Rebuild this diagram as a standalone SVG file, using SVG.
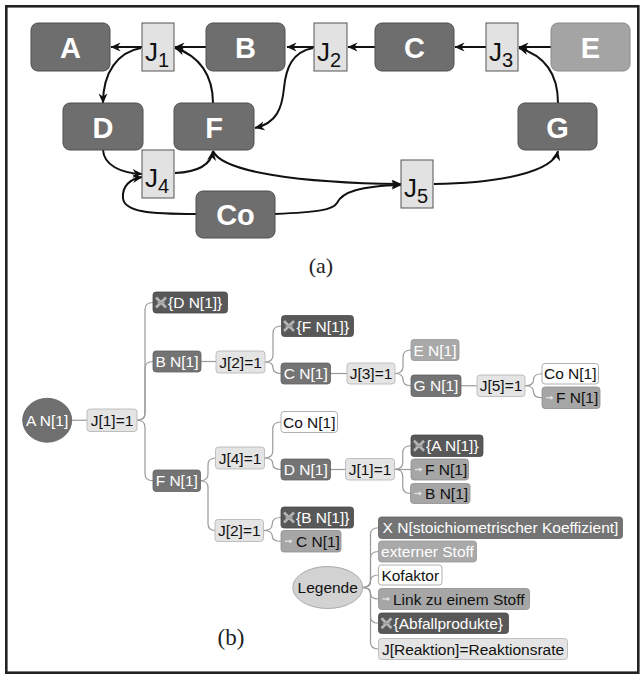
<svg xmlns="http://www.w3.org/2000/svg" width="642" height="675" viewBox="0 0 642 675">
  <style>
    .frame { fill: #ffffff; stroke: #222222; stroke-width: 2.6; }
    .sp { fill: #6e6e6e; stroke: #4f4f4f; stroke-width: 1; }
    .sp-ext { fill: #a4a4a4; stroke: #8a8a8a; stroke-width: 1; }
    .jr { fill: #e2e2e2; stroke: #555555; stroke-width: 1; }
    .big { font-family: "Liberation Sans", Arial, sans-serif; font-weight: bold; font-size: 29px; fill: #ffffff; text-anchor: middle; }
    .jt { font-family: "Liberation Sans", Arial, sans-serif; font-size: 26px; fill: #111111; }
    .jt tspan { font-size: 20px; }
    .arr { fill: none; stroke: #111111; stroke-width: 2; marker-end: url(#ah); }
    .cap { font-family: "Liberation Serif", "DejaVu Serif", serif; font-size: 22px; fill: #222222; text-anchor: middle; }
    .br { fill: none; stroke: #9a9a9a; stroke-width: 1.2; }
    .b-dark { fill: #585858; stroke: #4a4a4a; stroke-width: 0.8; }
    .b-med { fill: #747474; stroke: #626262; stroke-width: 0.8; }
    .b-ext { fill: #a9a9a9; stroke: #979797; stroke-width: 0.8; }
    .b-link { fill: #a6a6a6; stroke: #8e8e8e; stroke-width: 0.8; }
    .b-j { fill: #e4e4e4; stroke: #b2b2b2; stroke-width: 0.8; }
    .b-white { fill: #ffffff; stroke: #9c9c9c; stroke-width: 0.8; }
    .el-dark { fill: #6f6f6f; stroke: #5f5f5f; stroke-width: 0.8; }
    .el-leg { fill: #d2d2d2; stroke: #9a9a9a; stroke-width: 0.8; }
    .t { font-family: "Liberation Sans", Arial, sans-serif; font-size: 15.5px; }
    .tw { fill: #ffffff; }
    .tb { fill: #111111; }
    .mid { text-anchor: middle; }
  </style>
  <defs>
    <marker id="ah" markerWidth="11" markerHeight="10" refX="9.5" refY="5" orient="auto" markerUnits="userSpaceOnUse">
      <path d="M0,0.5 L10,5 L0,9.5 L3,5 Z" fill="#111111"/>
    </marker>
    <g id="waste">
      <path d="M0,0 L10,10 M10,0 L0,10" stroke="#b4b4b4" stroke-width="2.6" fill="none"/>
      <path d="M1,5 H9" stroke="#9a9a9a" stroke-width="1.2"/>
    </g>
    <g id="lnk">
      <path d="M0,0 H5" stroke="#e4e4e4" stroke-width="1.3"/>
      <path d="M4.5,-2.2 L7.5,0 L4.5,2.2 Z" fill="#e4e4e4"/>
    </g>
  </defs>

  <!-- outer frame -->
  <rect class="frame" x="6.3" y="6.3" width="632" height="666.4"/>

  <!-- ===== (a) reaction network ===== -->
  <g id="net-connectors">
    <path class="arr" d="M142,47 L111,47"/>
    <path class="arr" d="M206,47 L175,47"/>
    <path class="arr" d="M314,47 L287,47"/>
    <path class="arr" d="M375,47 L348,47"/>
    <path class="arr" d="M486,47 L455,47"/>
    <path class="arr" d="M551,47 L519,47"/>
    <path class="arr" d="M141,48 C118,52 103,72 103,103"/>
    <path class="arr" d="M213,103 C213,76 200,56 175,48"/>
    <path class="arr" d="M313,48 C292,52 286,68 284,88 C282,108 277,123 255,128"/>
    <path class="arr" d="M558,103 C558,76 546,56 519,48"/>
    <path class="arr" d="M103,150 C104,165 120,173 142,174"/>
    <path class="arr" d="M175,173 C197,172 211,165 213,151"/>
    <path class="arr" d="M196,214 C150,214 124,212 123,198 C122,186 130,179 142,177"/>
    <path class="arr" d="M213,151 C222,172 300,183 401,184"/>
    <path class="arr" d="M275,214 C318,212 333,210 337,203 C342,192 360,186 401,185"/>
    <path class="arr" d="M434,184 C500,183 553,172 558,151"/>
  </g>

  <g id="A"><rect class="sp" x="31" y="23" width="79" height="48" rx="7"/><text class="big" x="70.5" y="58">A</text></g>
  <g id="B"><rect class="sp" x="206" y="23" width="79" height="48" rx="7"/><text class="big" x="245.5" y="58">B</text></g>
  <g id="C"><rect class="sp" x="375" y="23" width="79" height="48" rx="7"/><text class="big" x="414.5" y="58">C</text></g>
  <g id="E"><rect class="sp-ext" x="551" y="23" width="79" height="48" rx="7"/><text class="big" x="590.5" y="58">E</text></g>
  <g id="D"><rect class="sp" x="63" y="103" width="80" height="47" rx="7"/><text class="big" x="103" y="137.5">D</text></g>
  <g id="F"><rect class="sp" x="174" y="103" width="80" height="47" rx="7"/><text class="big" x="214" y="137.5">F</text></g>
  <g id="G"><rect class="sp" x="518" y="103" width="79" height="47" rx="7"/><text class="big" x="557.5" y="137.5">G</text></g>
  <g id="Co"><rect class="sp" x="196" y="191" width="79" height="47" rx="7"/><text class="big" x="235.5" y="225">Co</text></g>

  <g id="J1"><rect class="jr" x="142" y="23" width="32" height="48"/><text class="jt" x="145" y="61">J<tspan dy="6">1</tspan></text></g>
  <g id="J2"><rect class="jr" x="314" y="23" width="33" height="48"/><text class="jt" x="317" y="61">J<tspan dy="6">2</tspan></text></g>
  <g id="J3"><rect class="jr" x="486" y="23" width="32" height="48"/><text class="jt" x="489" y="61">J<tspan dy="6">3</tspan></text></g>
  <g id="J4"><rect class="jr" x="142" y="150" width="32" height="48"/><text class="jt" x="145" y="187">J<tspan dy="6">4</tspan></text></g>
  <g id="J5"><rect class="jr" x="401" y="160" width="32" height="48"/><text class="jt" x="404" y="197">J<tspan dy="6">5</tspan></text></g>

  <text class="cap" x="321" y="273">(a)</text>

  <!-- ===== (b) reaction tree ===== -->
  <g id="tree-connectors">
    <path class="br" d="M71.7,420.25 L87,420.25"/>
    <path class="br" d="M137,420.25 Q145,420.25 145,413.25 L145,309.5 Q145,302.5 153,302.5"/>
    <path class="br" d="M137,420.25 Q145,420.25 145,413.25 L145,368.5 Q145,361.5 153,361.5"/>
    <path class="br" d="M137,420.25 Q145,420.25 145,427.25 L145,473.75 Q145,480.75 153,480.75"/>
    <path class="br" d="M201,361.5 L216,361.5"/>
    <path class="br" d="M265,362 Q273,362 273,355 L273,333 Q273,326 281.5,326"/>
    <path class="br" d="M265,362 Q273,362 273,367.75 Q273,373.5 281,373.5"/>
    <path class="br" d="M330,373.5 L347,373.5"/>
    <path class="br" d="M395,373.5 Q403,373.5 403,366.5 L403,357 Q403,350 411,350"/>
    <path class="br" d="M395,373.5 Q403,373.5 403,379.6 Q403,385.75 411,385.75"/>
    <path class="br" d="M461,385.75 L477,385.75"/>
    <path class="br" d="M525,385.75 Q533.5,385.75 533.5,379.75 Q533.5,373.75 542,373.75"/>
    <path class="br" d="M525,385.75 Q533.5,385.75 533.5,391.75 Q533.5,397.75 542,397.75"/>
    <path class="br" d="M200.5,480.75 Q208,480.75 208,473.75 L208,465 Q208,458 215.5,458"/>
    <path class="br" d="M200.5,480.75 Q208,480.75 208,487.75 L208,523.5 Q208,530.5 215,530.5"/>
    <path class="br" d="M264.5,458 Q272.75,458 272.75,451 L272.75,429 Q272.75,422 281,422"/>
    <path class="br" d="M264.5,458 Q272.75,458 272.75,463.75 Q272.75,469.5 281,469.5"/>
    <path class="br" d="M330.5,469.5 L345.5,469.5"/>
    <path class="br" d="M394.5,469.25 Q402.75,469.25 402.75,462.25 L402.75,452.75 Q402.75,445.75 411,445.75"/>
    <path class="br" d="M394.5,469.5 L411,469.5"/>
    <path class="br" d="M394.5,469.25 Q402.75,469.25 402.75,476.25 L402.75,486.5 Q402.75,493.5 410.5,493.5"/>
    <path class="br" d="M263.5,530.5 Q272.25,530.5 272.25,524 Q272.25,517.5 281,517.5"/>
    <path class="br" d="M263.5,530.5 Q272.25,530.5 272.25,535.9 Q272.25,541.25 281,541.25"/>
    <path class="br" d="M362.7,587.5 Q370.5,587.5 370.5,580.5 L370.5,534.75 Q370.5,527.75 378.5,527.75"/>
    <path class="br" d="M362.7,587.5 Q370.5,587.5 370.5,580.5 L370.5,558.5 Q370.5,551.5 378.5,551.5"/>
    <path class="br" d="M362.7,587.5 Q370.5,587.5 370.5,581.25 Q370.5,575 378.5,575"/>
    <path class="br" d="M362.7,587.5 Q370.5,587.5 370.5,593.25 Q370.5,599 378.5,599"/>
    <path class="br" d="M362.7,587.5 Q370.5,587.5 370.5,594.5 L370.5,616.25 Q370.5,623.25 378.5,623.25"/>
    <path class="br" d="M362.7,587.5 Q370.5,587.5 370.5,594.5 L370.5,642 Q370.5,649 378.5,649"/>
  </g>

  <g id="t-AN1"><ellipse class="el-dark" cx="47.2" cy="420.25" rx="24.5" ry="22"/><text class="t tw mid" x="47.2" y="425.8">A N[1]</text></g>
  <g id="t-J1a"><rect class="b-j" x="87" y="409" width="50" height="22.5" rx="3"/><text class="t tb mid" x="112" y="425.8">J[1]=1</text></g>

  <g id="t-DN1w"><rect class="b-dark" x="153" y="292" width="74.5" height="21" rx="3"/><use href="#waste" x="156" y="297.5"/><text class="t tw" x="168" y="308">{D N[1]}</text></g>
  <g id="t-BN1"><rect class="b-med" x="153" y="351" width="48" height="21" rx="3"/><text class="t tw mid" x="177" y="367">B N[1]</text></g>
  <g id="t-J2a"><rect class="b-j" x="216" y="351" width="49" height="22" rx="3"/><text class="t tb mid" x="240.5" y="367.5">J[2]=1</text></g>
  <g id="t-FN1w"><rect class="b-dark" x="281.5" y="315.5" width="72" height="21" rx="3"/><use href="#waste" x="284" y="321"/><text class="t tw" x="296.5" y="331.5">{F N[1]}</text></g>
  <g id="t-CN1"><rect class="b-med" x="281" y="363" width="49.5" height="21" rx="3"/><text class="t tw mid" x="305.75" y="379">C N[1]</text></g>
  <g id="t-J3"><rect class="b-j" x="347" y="363" width="48" height="21" rx="3"/><text class="t tb mid" x="371" y="379">J[3]=1</text></g>
  <g id="t-EN1"><rect class="b-ext" x="411" y="339.5" width="48" height="21" rx="3"/><text class="t tw mid" x="435" y="355.5">E N[1]</text></g>
  <g id="t-GN1"><rect class="b-med" x="411" y="375" width="50" height="21.5" rx="3"/><text class="t tw mid" x="436" y="391.3">G N[1]</text></g>
  <g id="t-J5"><rect class="b-j" x="477" y="375" width="48" height="21.5" rx="3"/><text class="t tb mid" x="501" y="391.3">J[5]=1</text></g>
  <g id="t-CoN1a"><rect class="b-white" x="542" y="363.5" width="56.5" height="20.5" rx="3"/><text class="t tb mid" x="570.25" y="379.3">Co N[1]</text></g>
  <g id="t-FN1l1"><rect class="b-link" x="542" y="387" width="58" height="21.5" rx="3"/><use href="#lnk" x="546" y="397.75"/><text class="t tb" x="556" y="403.3">F N[1]</text></g>

  <g id="t-FN1"><rect class="b-med" x="153" y="470" width="47.5" height="21.5" rx="3"/><text class="t tw mid" x="176.75" y="486.3">F N[1]</text></g>
  <g id="t-J4"><rect class="b-j" x="215.5" y="447" width="49" height="22" rx="3"/><text class="t tb mid" x="240" y="463.5">J[4]=1</text></g>
  <g id="t-CoN1b"><rect class="b-white" x="281" y="411.5" width="56.5" height="21" rx="3"/><text class="t tb mid" x="309.25" y="427.5">Co N[1]</text></g>
  <g id="t-DN1"><rect class="b-med" x="281" y="459" width="49.5" height="21" rx="3"/><text class="t tw mid" x="305.75" y="475">D N[1]</text></g>
  <g id="t-J1b"><rect class="b-j" x="345.5" y="458.5" width="49" height="21.5" rx="3"/><text class="t tb mid" x="370" y="474.8">J[1]=1</text></g>
  <g id="t-AN1w"><rect class="b-dark" x="411" y="435" width="72" height="21.5" rx="3"/><use href="#waste" x="414" y="440.75"/><text class="t tw" x="426" y="451.3">{A N[1]}</text></g>
  <g id="t-FN1l2"><rect class="b-link" x="411" y="459" width="57.5" height="21" rx="3"/><use href="#lnk" x="415" y="469.5"/><text class="t tb" x="425" y="475">F N[1]</text></g>
  <g id="t-BN1l"><rect class="b-link" x="410.5" y="483.5" width="59.5" height="20" rx="3"/><use href="#lnk" x="414.5" y="493.5"/><text class="t tb" x="425" y="499">B N[1]</text></g>
  <g id="t-J2b"><rect class="b-j" x="215" y="519.5" width="48.5" height="22" rx="3"/><text class="t tb mid" x="239.25" y="536">J[2]=1</text></g>
  <g id="t-BN1w"><rect class="b-dark" x="281" y="507" width="72.5" height="21" rx="3"/><use href="#waste" x="284" y="512.5"/><text class="t tw" x="296" y="523">{B N[1]}</text></g>
  <g id="t-CN1l"><rect class="b-link" x="281" y="530.5" width="60" height="21.5" rx="3"/><use href="#lnk" x="285" y="541.25"/><text class="t tb" x="296" y="546.8">C N[1]</text></g>

  <!-- legend -->
  <g id="legend">
    <g id="leg-root"><ellipse class="el-leg" cx="327.7" cy="587.5" rx="35" ry="21"/><text class="t tb mid" x="327.7" y="593">Legende</text></g>
    <g id="leg-species"><rect class="b-med" x="378.5" y="517" width="244" height="21.5" rx="3"/><text class="t tw mid" x="500.5" y="533.3">X N[stoichiometrischer Koeffizient]</text></g>
    <g id="leg-external"><rect class="b-ext" x="378.5" y="541" width="98" height="21" rx="3"/><text class="t tw mid" x="427.5" y="557">externer Stoff</text></g>
    <g id="leg-cofactor"><rect class="b-white" x="378.5" y="565" width="63.5" height="20" rx="3"/><text class="t tb mid" x="410.25" y="580.5">Kofaktor</text></g>
    <g id="leg-link"><rect class="b-link" x="378.5" y="588.5" width="151" height="21" rx="3"/><use href="#lnk" x="382.5" y="599"/><text class="t tb" x="393" y="604.5">Link zu einem Stoff</text></g>
    <g id="leg-waste"><rect class="b-dark" x="378.5" y="613" width="130" height="20.5" rx="3"/><use href="#waste" x="381.5" y="618.25"/><text class="t tw" x="393.5" y="628.8">{Abfallprodukte}</text></g>
    <g id="leg-rate"><rect class="b-j" x="378.5" y="638.5" width="189" height="21" rx="3"/><text class="t tb mid" x="473" y="654.5">J[Reaktion]=Reaktionsrate</text></g>
  </g>

  <text class="cap" x="231" y="645" style="font-size:23px">(b)</text>
</svg>
